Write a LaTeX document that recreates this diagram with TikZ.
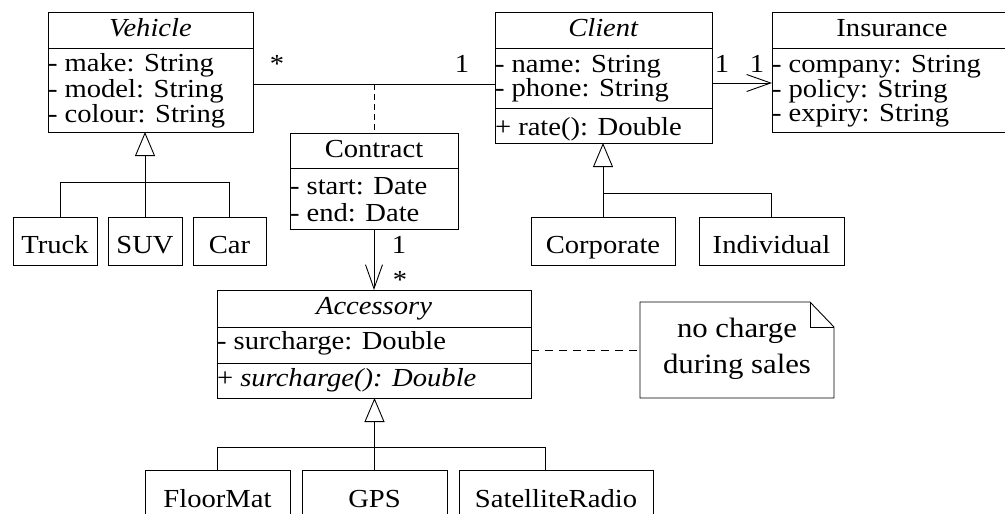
\documentclass[tikz,border=0pt]{standalone}
\usepackage{fontspec}
\setmainfont{Liberation Serif}[FakeStretch=1.1]
\usepackage{tikz}
\usetikzlibrary{arrows.meta}

\newcommand{\umlfont}{\fontsize{26pt}{31pt}\selectfont}
\newcommand{\notefont}{\fontsize{28pt}{33pt}\selectfont}

\begin{document}
\begin{tikzpicture}[x=1pt, y=-1pt, line width=0.9pt,
  every node/.style={inner sep=0pt, outer sep=0pt, font=\umlfont},
  classbox/.style={draw, anchor=north west},
  attr/.style={anchor=base west},
  title/.style={anchor=base},
  gen/.style={-{Triangle[open, length=24pt, width=20pt]}},
  nav/.style={-{Straight Barb[length=24pt, width=17pt]}}]

\useasboundingbox (0,0) rectangle (1005,514);
\clip (0,0) rectangle (1005,514);

% the classes
\node[classbox, minimum width=205pt, minimum height=120pt] (vehicle) at (48,12) {};
\node[classbox, minimum width=217pt, minimum height=131pt] (client) at (495,12) {};
\node[classbox, minimum width=240pt, minimum height=120pt] (insurance) at (772,12) {};
\node[classbox, minimum width=168pt, minimum height=96pt] (contract) at (290,133) {};
\node[classbox, minimum width=314pt, minimum height=108pt] (accessory) at (217,290) {};

\draw (48,48) -- (253,48);
\draw (495,48) -- (712,48);
\draw (495,108) -- (712,108);
\draw (772,48) -- (1012,48);
\draw (290,168) -- (458,168);
\draw (217,327) -- (531,327);
\draw (217,363) -- (531,363);

\node[title] (vehiclename) at (150.5,36) {\textit{Vehicle}};
\node[attr] (make) at (48,71) {- make: String};
\node[attr] (model) at (48,97) {- model: String};
\node[attr] (colour) at (48,122) {- colour: String};

\node[title] (clientname) at (603.5,36) {\textit{Client}};
\node[attr] (name) at (495,72) {- name: String};
\node[attr] (phone) at (495,96) {- phone: String};
\node[attr] (rate) at (495,135) {+ rate(): Double};

\node[title] (insurancename) at (892,36) {Insurance};
\node[attr] (company) at (772,72) {- company: String};
\node[attr] (policy) at (772,97) {- policy: String};
\node[attr] (expiry) at (772,121) {- expiry: String};

\node[title] (contractname) at (374,157) {Contract};
\node[attr] (start) at (290,194) {- start: Date};
\node[attr] (end) at (290,221) {- end: Date};

\node[title] (accessoryname) at (374,314) {\textit{Accessory}};
\node[attr] (surcharge) at (217,349) {- surcharge: Double};
\node[attr] (charge) at (217,386) {+ \textit{surcharge(): Double}};

% subclasses
\node[classbox, minimum width=84pt, minimum height=48pt] (truck) at (13,217) {};
\node[classbox, minimum width=74pt, minimum height=48pt] (suv) at (108,217) {};
\node[classbox, minimum width=73pt, minimum height=48pt] (car) at (193,217) {};
\node[title] (trucktext) at (55,253) {Truck};
\node[title] (suvtext) at (145,253) {SUV};
\node[title] (cartext) at (229.5,253) {Car};

\node[classbox, minimum width=144pt, minimum height=48pt] (corporate) at (531,217) {};
\node[classbox, minimum width=145pt, minimum height=48pt] (individual) at (699,217) {};
\node[title] (corporatetext) at (603,253) {Corporate};
\node[title] (individualtext) at (771.5,253) {Individual};

\node[classbox, minimum width=145pt, minimum height=60pt] (floormat) at (145,470) {};
\node[classbox, minimum width=145pt, minimum height=60pt] (gps) at (302,470) {};
\node[classbox, minimum width=194pt, minimum height=60pt] (radio) at (459,470) {};
\node[title] (floormattext) at (217.5,507) {FloorMat};
\node[title] (gpstext) at (374.5,507) {GPS};
\node[title] (radiotext) at (556,507) {SatelliteRadio};

% generalizations
\node[coordinate] (vbranch) at (60,182) {};
\draw[gen] (suv.north) -- (suv.north |- vehicle.south);
\draw (vbranch |- truck.north) -- (vbranch) -- (car.north |- vbranch) -- (car.north);

\node[coordinate] (cbranch) at (603,193) {};
\draw[gen] (corporate.north) -- (corporate.north |- client.south);
\draw (cbranch) -- (individual.north |- cbranch) -- (individual.north);

\node[coordinate] (abranch) at (217.5,447) {};
\node[coordinate] (aright) at (545,447) {};
\draw[gen] (gps.north) -- (gps.north |- accessory.south);
\draw (abranch |- floormat.north) -- (abranch) -- (aright) -- (aright |- radio.north);

% associations
\node[coordinate] (contractlink) at (374,84) {};
\draw (vehicle.east |- contractlink) -- (client.west |- contractlink);
\draw[dashed, dash pattern=on 6pt off 4pt] (contractlink) -- (contract.north);

\node[coordinate] (insurancelink) at (740,83) {};
\draw[nav] (client.east |- insurancelink) -- (insurance.west |- insurancelink);
\draw[nav] (contract.south) -- (accessory.north);

\node[title] (vehiclemult) at (277,72) {*};
\node[title] (clientmult) at (462,72) {1};
\node[title] (clientmultb) at (722,72) {1};
\node[title] (insurancemult) at (757,72) {1};
\node[title] (contractmult) at (399,253) {1};
\node[title] (accessorymult) at (400,288) {*};

% note
\node[minimum width=194pt, minimum height=96pt, anchor=north west] (note) at (640,302) {};
\draw (note.south west) -- (note.north west) -- ([xshift=-24pt]note.north east)
  -- ([yshift=-25pt]note.north east) -- (note.south east) -- cycle;
\draw ([xshift=-24pt]note.north east) |- ([yshift=-25pt]note.north east);
\node[title, font=\notefont] (notea) at (737,337) {no charge};
\node[title, font=\notefont] (noteb) at (737,373) {during sales};
\draw[dashed, dash pattern=on 8pt off 6pt] (accessory.east |- note) -- (note.west);

\end{tikzpicture}
\end{document}
